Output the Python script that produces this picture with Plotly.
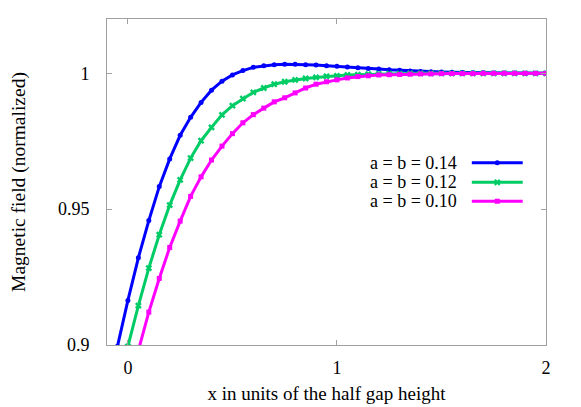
import plotly.graph_objects as go

# x positions (units of half gap height)
x_pos = [-0.1, -0.05, 0.0, 0.05, 0.1, 0.15, 0.2, 0.25, 0.3, 0.35, 0.4,
         0.45, 0.5, 0.55, 0.6, 0.65, 0.7, 0.75, 0.8, 0.85, 0.9, 0.95,
         1.0, 1.05, 1.1, 1.15, 1.2, 1.25, 1.3, 1.35, 1.4, 1.45, 1.5,
         1.55, 1.6, 1.65, 1.7, 1.75, 1.8, 1.85, 1.9, 1.95, 2.0]

# normalized field, a = b = 0.14
field_014 = [0.881, 0.8995, 0.9164, 0.9321, 0.9458, 0.9583, 0.9685, 0.9772, 0.9838, 0.9893, 0.9938,
             0.9971, 0.9994, 1.0010, 1.0022, 1.0028, 1.0032, 1.0033, 1.0033, 1.0032, 1.0031, 1.0028,
             1.0026, 1.0023, 1.0021, 1.0018, 1.0016, 1.0013, 1.0011, 1.0009, 1.0007, 1.0006, 1.0005,
             1.0004, 1.0003, 1.0002, 1.0002, 1.0001, 1.0001, 1.0001, 1.0, 1.0, 1.0]

# normalized field, a = b = 0.12
field_012 = [0.862, 0.882, 0.8995, 0.9145, 0.9283, 0.9406, 0.9515, 0.9608, 0.9688, 0.9752, 0.9801,
             0.9847, 0.9881, 0.9907, 0.9930, 0.9946, 0.9960, 0.9969, 0.9976, 0.9981, 0.9985, 0.9989,
             0.9991, 0.9994, 0.9995, 0.9997, 0.9998, 0.9999, 0.9999, 1.0, 1.0, 1.0, 1.0,
             1.0, 1.0, 1.0, 1.0, 1.0, 1.0, 1.0, 1.0, 1.0, 1.0]

# normalized field, a = b = 0.10
field_010 = [0.846, 0.865, 0.8825, 0.898, 0.9121, 0.9245, 0.9359, 0.9456, 0.9547, 0.9619, 0.9681,
             0.9732, 0.9778, 0.9818, 0.9848, 0.9872, 0.9895, 0.9910, 0.9928, 0.9946, 0.9960, 0.9969,
             0.9976, 0.9983, 0.9988, 0.9991, 0.9994, 0.9995, 0.9996, 0.9997, 0.9998, 0.9998, 0.9999,
             0.9999, 0.9999, 0.9999, 1.0, 1.0, 1.0, 1.0, 1.0, 1.0, 1.0]

series_names = ["a = b = 0.14", "a = b = 0.12", "a = b = 0.10"]
series_values = [field_014, field_012, field_010]
x_ticks = [0, 1, 2]
y_ticks = [0.9, 0.95, 1]

COLORS = ["#0000ff", "#00cc66", "#ff00ff"]
SYMBOLS = ["circle", "x", "square"]
SIZES = [5, 6, 5]
FONT = "Liberation Serif"
AXIS_GRAY = "#a0a0a0"

# gnuplot-style key: text right aligned, sample line to the right (paper coords of plot area)
KEY = dict(text_x=0.802, line_x0=0.831, line_x1=0.947, row_y=[0.559, 0.499, 0.441])

fig = go.Figure()

for name, vals, color, sym, size in zip(series_names, series_values, COLORS, SYMBOLS, SIZES):
    fig.add_trace(
        go.Scatter(
            x=x_pos,
            y=vals,
            name=name,
            mode="lines+markers",
            line=dict(color=color, width=3),
            marker=dict(symbol=sym, size=size, color=color, line=dict(width=0)),
            showlegend=False,
        )
    )

# key samples drawn on an overlaid [0,1] axis pair
for i, (name, color, sym, size) in enumerate(zip(series_names, COLORS, SYMBOLS, SIZES)):
    ky = KEY["row_y"][i]
    fig.add_trace(
        go.Scatter(
            x=[KEY["line_x0"], KEY["line_x1"]],
            y=[ky, ky],
            xaxis="x2",
            yaxis="y2",
            mode="lines",
            line=dict(color=color, width=3),
            showlegend=False,
            hoverinfo="skip",
        )
    )
    fig.add_trace(
        go.Scatter(
            x=[(KEY["line_x0"] + KEY["line_x1"]) / 2],
            y=[ky],
            xaxis="x2",
            yaxis="y2",
            mode="markers",
            marker=dict(symbol=sym, size=size, color=color, line=dict(width=0)),
            showlegend=False,
            hoverinfo="skip",
        )
    )
    fig.add_annotation(
        x=KEY["text_x"], y=ky, xref="paper", yref="paper",
        text=name, showarrow=False, xanchor="right", yanchor="middle",
        font=dict(family=FONT, size=18, color="black"),
    )

axis_common = dict(
    showline=True,
    linecolor=AXIS_GRAY,
    linewidth=1,
    mirror="ticks",
    ticks="inside",
    ticklen=5,
    tickcolor=AXIS_GRAY,
    showgrid=False,
    zeroline=False,
    automargin=False,
    tickfont=dict(family=FONT, size=18, color="black"),
)

# page body adds an 8px offset, margins compensate for it
fig.update_layout(
    width=581,
    height=407,
    plot_bgcolor="white",
    paper_bgcolor="white",
    margin=dict(l=99, r=43, t=11, b=70),
    font=dict(family=FONT, size=18, color="black"),
    xaxis=dict(
        **axis_common,
        range=[-0.1, 2],
        tickvals=x_ticks,
        ticklabelstandoff=6,
        title=dict(text="x in units of the half gap height", font=dict(family=FONT, size=19), standoff=10),
    ),
    yaxis=dict(
        **axis_common,
        range=[0.9, 1.02],
        tickvals=y_ticks,
        ticklabelstandoff=13,
        title=dict(text="Magnetic field (normalized)", font=dict(family=FONT, size=19.5), standoff=30),
    ),
    xaxis2=dict(overlaying="x", range=[0, 1], visible=False),
    yaxis2=dict(overlaying="y", range=[0, 1], visible=False),
)

fig.write_html("out.html")
